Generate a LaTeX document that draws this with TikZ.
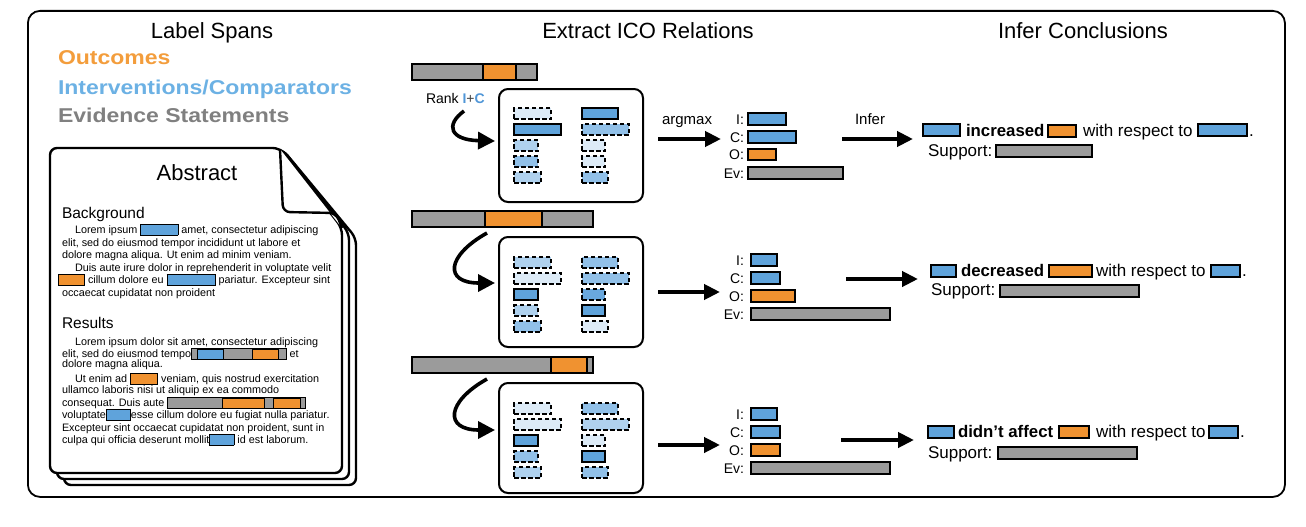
\documentclass[tikz,border=0pt]{standalone}
\usepackage{fontspec}
\setmainfont{Liberation Sans}
\newfontfamily\legendfont[FakeStretch=1.15]{Liberation Sans}
\usetikzlibrary{arrows.meta}
\definecolor{oorange}{RGB}{240,146,48}
\definecolor{iblue}{RGB}{95,163,219}
\definecolor{rankblue}{RGB}{80,150,215}
\definecolor{evgray}{RGB}{155,155,155}
\definecolor{legorange}{RGB}{243,157,60}
\definecolor{legblue}{RGB}{108,177,228}
\definecolor{leggray}{RGB}{128,128,128}
\definecolor{bLightest}{RGB}{221,235,247}
\definecolor{bLight}{RGB}{175,209,238}
\definecolor{bMed}{RGB}{145,192,232}
\definecolor{bDark}{RGB}{105,168,222}
\setlength\fboxsep{0pt}\setlength\fboxrule{0.8pt}
\newcommand\ibx[3]{\fcolorbox{black}{#1}{\rule{0pt}{#3}\hspace{#2}}}
\newcommand\ib[2]{\raisebox{-2pt}{\ibx{#1}{#2}{10.4pt}}}
\newcommand\cbA{\raisebox{-1.5pt}{\fcolorbox{black}{evgray}{\hspace{5pt}\ibx{iblue}{25.4pt}{9pt}\hspace{28pt}\ibx{oorange}{25.4pt}{9pt}\hspace{7pt}}}}
\newcommand\cbB{\raisebox{-1.5pt}{\fcolorbox{black}{evgray}{\hspace{54pt}\ibx{oorange}{41.4pt}{9pt}\hspace{8pt}\ibx{oorange}{26.4pt}{9pt}\hspace{4pt}}}}
\newcommand\spanbox[6]{\node[#2, minimum width={#5-#3}, minimum height={#6-#4}] (#1) at (#3,#4) {};}
\newcommand\rk[5]{\node[rkbase,#2,minimum width=#5] (#1) at (#3,#4) {};}
\begin{document}
\begin{tikzpicture}[x=1pt,y=-1pt,
  txt/.style={inner sep=0pt, outer sep=0pt, anchor=base west},
  body/.style={txt, font=\fontsize{10.8}{12}\selectfont},
  ttl/.style={inner sep=0pt, outer sep=0pt, anchor=base, font=\fontsize{22}{26}\selectfont},
  leg/.style={txt, font=\legendfont\bfseries\fontsize{20}{24}\selectfont},
  head/.style={txt, font=\fontsize{15.5}{18}\selectfont},
  lab/.style={inner sep=0pt, outer sep=0pt, anchor=base east, font=\fontsize{14}{16}\selectfont},
  small/.style={inner sep=0pt, outer sep=0pt, anchor=base, font=\fontsize{15}{18}\selectfont},
  sent/.style={txt, font=\fontsize{17}{20}\selectfont},
  sentb/.style={txt, font=\bfseries\fontsize{16.8}{20}\selectfont},
  spbase/.style={draw, line width=1.1pt, inner sep=0pt, outer sep=0pt, anchor=north west},
  spI/.style={spbase, fill=iblue},
  spO/.style={spbase, fill=oorange},
  spE/.style={spbase, fill=evgray},
  bar/.style={draw, line width=1.2pt, inner sep=0pt, outer sep=0pt, anchor=north west, fill=evgray},
  barO/.style={bar, fill=oorange},
  rankbox/.style={draw, line width=2pt, rounded corners=9pt, inner sep=0pt, outer sep=0pt, anchor=north west, minimum width=144},
  rkbase/.style={draw, line width=1.4pt, dash pattern=on 4.5pt off 2.5pt, inner sep=0pt, outer sep=0pt, anchor=north west, minimum height=11},
  rkS/.style={solid, line width=1.2pt, fill=iblue},
  rkA/.style={fill=bLightest},
  rkB/.style={fill=bLight},
  rkC/.style={fill=bMed},
  rkD/.style={fill=bDark},
  bigarrow/.style={line width=4pt, -{Triangle[length=16pt,width=15pt]}},
  curvearrow/.style={line width=3.6pt, -{Triangle[length=17pt,width=17pt]}},
  page/.style={draw, fill=white, line width=2.4pt, line join=round, rounded corners=7pt}
]
\useasboundingbox (0,0) rectangle (1306,527);
\node[draw, line width=1.8pt, rounded corners=12pt, inner sep=0pt, anchor=north west, minimum width=1257, minimum height=486] (frame) at (27,10) {};

% titles
\node[ttl] (t1) at (212,39) {Label Spans};
\node[ttl] (t2) at (648,39) {Extract ICO Relations};
\node[ttl] (t3) at (1083,39) {Infer Conclusions};

% legend
\node[leg, text=legorange] (lo) at (58,65) {Outcomes};
\node[leg, text=legblue] (li) at (58,94) {Interventions/Comparators};
\node[leg, text=leggray] (le) at (58,122) {Evidence Statements};

% pages
\draw[page] (64,160) -- (283,150) -- (356,238) -- (356,485) -- (64,485) -- cycle;
\draw[page] (57,154) -- (282,149) -- (349,233) -- (349,479) -- (57,479) -- cycle;
\draw[page] (50,148) -- (280,148) -- (342,228) -- (342,473) -- (50,473) -- cycle;
\draw[page] (280,149) -- (283,212) -- (336,213) -- (342,228);

\node[ttl] (abs) at (197,180) {Abstract};
\node[head] (bg) at (62,218) {Background};
\node[body] (b1) at (75,233) {Lorem ipsum \ib{iblue}{36.4pt} amet, consectetur adipiscing};
\node[body] (b2) at (62,246) {elit, sed do eiusmod tempor incididunt ut labore et};
\node[body] (b3) at (62,258) {dolore magna aliqua. Ut enim ad minim veniam.};
\node[body] (b4) at (75,271) {Duis aute irure dolor in reprehenderit in voluptate velit};
\node[body] (b5) at (58,283) {\ib{oorange}{25.4pt} cillum dolore eu \ib{iblue}{47.4pt} pariatur. Excepteur sint};
\node[body] (b6) at (62,296) {occaecat cupidatat non proident};

\node[head] (res) at (62,328) {Results};
\node[body] (r1) at (75,345) {Lorem ipsum dolor sit amet, consectetur adipiscing};
\node[body] (r2) at (62,357) {elit, sed do eiusmod tempo\cbA{} et};
\node[body] (r3) at (62,367) {dolore magna aliqua.};
\node[body] (r4) at (75,382) {Ut enim ad \ib{oorange}{26.4pt} veniam, quis nostrud exercitation};
\node[body] (r5) at (62,393) {ullamco laboris nisi ut aliquip ex ea commodo};
\node[body] (r6) at (62,406) {consequat. Duis aute \cbB};
\node[body] (r7) at (62,418) {voluptate\ib{iblue}{23.4pt}esse cillum dolore eu fugiat nulla pariatur.};
\node[body] (r8) at (62,431) {Excepteur sint occaecat cupidatat non proident, sunt in};
\node[body] (r9) at (62,443) {culpa qui officia deserunt mollit\ib{iblue}{23.4pt} id est laborum.};

% evidence bars
\node[bar, minimum width=125, minimum height=16] (ev1) at (412,64) {};
\node[barO, minimum width=33, minimum height=16] (ev1o) at (483,64) {};
\node[bar, minimum width=181, minimum height=16] (ev2) at (412,211) {};
\node[barO, minimum width=57, minimum height=16] (ev2o) at (485,211) {};
\node[bar, minimum width=181, minimum height=16] (ev3) at (412,357) {};
\node[barO, minimum width=36, minimum height=16] (ev3o) at (551,357) {};

\node[txt, font=\fontsize{14}{16}\selectfont] (rank) at (426,103) {Rank {\bfseries\color{rankblue}I}{\color{black!75}+}{\bfseries\color{rankblue}C}};

% rank boxes
\node[rankbox, minimum height=113] (rb1) at (499,89) {};
\node[rankbox, minimum height=110] (rb2) at (499,237) {};
\node[rankbox, minimum height=110] (rb3) at (499,383) {};

\rk{a1}{rkA}{514}{108}{37}
\rk{a2}{rkS}{514}{124}{47}
\rk{a3}{rkB}{514}{140}{24}
\rk{a4}{rkC}{514}{156}{24}
\rk{a5}{rkB}{514}{172}{27}
\rk{a6}{rkS}{582}{108}{36}
\rk{a7}{rkC}{582}{124}{47}
\rk{a8}{rkA}{582}{140}{23}
\rk{a9}{rkA}{582}{156}{23}
\rk{a10}{rkC}{582}{172}{26}

\rk{b1r}{rkB}{514}{257}{37}
\rk{b2r}{rkA}{514}{273}{47}
\rk{b3r}{rkS}{514}{289}{24}
\rk{b4r}{rkB}{514}{305}{24}
\rk{b5r}{rkC}{514}{321}{27}
\rk{b6r}{rkC}{582}{257}{36}
\rk{b7r}{rkC}{582}{273}{47}
\rk{b8r}{rkD}{582}{289}{23}
\rk{b9r}{rkS}{582}{305}{23}
\rk{b10r}{rkA}{582}{321}{26}

\rk{c1r}{rkA}{514}{403}{37}
\rk{c2r}{rkA}{514}{419}{47}
\rk{c3r}{rkS}{514}{435}{24}
\rk{c4r}{rkC}{514}{451}{24}
\rk{c5r}{rkB}{514}{467}{27}
\rk{c6r}{rkC}{582}{403}{36}
\rk{c7r}{rkB}{582}{419}{47}
\rk{c8r}{rkA}{582}{435}{23}
\rk{c9r}{rkS}{582}{451}{23}
\rk{c10r}{rkC}{582}{467}{26}

% curved arrows
\coordinate (k1s) at (464,111); \coordinate (k1e) at (495,141);
\coordinate (k2s) at (487,233); \coordinate (k2e) at (495,283);
\coordinate (k3s) at (487,379); \coordinate (k3e) at (495,430);
\draw[curvearrow] (k1s) .. controls (445,125) and (450,140) .. (k1e);
\draw[curvearrow] (k2s) .. controls (446,256) and (444,283) .. (k2e);
\draw[curvearrow] (k3s) .. controls (446,402) and (444,430) .. (k3e);

% argmax arrows
\coordinate (m1s) at (658,139); \coordinate (m1e) at (721,139);
\coordinate (m2s) at (658,292); \coordinate (m2e) at (720,292);
\coordinate (m3s) at (658,445); \coordinate (m3e) at (720,445);
\draw[bigarrow] (m1s) -- (m1e);
\draw[bigarrow] (m2s) -- (m2e);
\draw[bigarrow] (m3s) -- (m3e);
\node[small] (argmax) at (687,124) {argmax};

% ICO lists
\node[lab] (li1) at (744,124) {I:};
\node[lab] (lc1) at (744,142) {C:};
\node[lab] (lo1) at (744,159.5) {O:};
\node[lab] (le1) at (744,178) {Ev:};
\spanbox{i1}{spI}{748}{113}{786}{125}
\spanbox{c1}{spI}{748}{131}{796}{143}
\spanbox{o1}{spO}{748}{149}{776}{160}
\spanbox{e1}{spE}{748}{167}{843}{179}

\node[lab] (li2) at (744,265) {I:};
\node[lab] (lc2) at (744,283) {C:};
\node[lab] (lo2) at (744,301) {O:};
\node[lab] (le2) at (744,319) {Ev:};
\spanbox{i2}{spI}{751}{254}{777}{266}
\spanbox{c2}{spI}{751}{272}{780}{284}
\spanbox{o2}{spO}{751}{290}{795}{302}
\spanbox{e2}{spE}{751}{308}{890}{320}

\node[lab] (li3) at (744,419) {I:};
\node[lab] (lc3) at (744,437) {C:};
\node[lab] (lo3) at (744,455) {O:};
\node[lab] (le3) at (744,473) {Ev:};
\spanbox{i3}{spI}{751}{408}{777}{420}
\spanbox{c3}{spI}{751}{426}{780}{438}
\spanbox{o3}{spO}{751}{444}{780}{456}
\spanbox{e3}{spE}{751}{462}{890}{474}

% infer arrows
\coordinate (n1s) at (842,139); \coordinate (n1e) at (913,139);
\coordinate (n2s) at (846,279); \coordinate (n2e) at (918,279);
\coordinate (n3s) at (841,440); \coordinate (n3e) at (914,440);
\draw[bigarrow] (n1s) -- (n1e);
\draw[bigarrow] (n2s) -- (n2e);
\draw[bigarrow] (n3s) -- (n3e);
\node[small] (infer) at (870,124) {Infer};

% conclusions
\spanbox{s1a}{spI}{923}{124}{960}{136}
\node[sentb] (s1v) at (966,136) {increased};
\spanbox{s1o}{spO}{1048}{125}{1076}{137}
\node[sent] (s1w) at (1083,136) {with respect to};
\spanbox{s1b}{spI}{1198}{124}{1247}{136}
\node[sent] (s1d) at (1249,136) {.};
\node[sent] (s1s) at (928,156) {Support:};
\spanbox{s1e}{spE}{996}{145}{1092}{157}

\spanbox{s2a}{spI}{931}{265}{956}{277}
\node[sentb] (s2v) at (961,276) {decreased};
\spanbox{s2o}{spO}{1049}{265}{1092}{277}
\node[sent] (s2w) at (1096,276) {with respect to};
\spanbox{s2b}{spI}{1211}{265}{1240}{277}
\node[sent] (s2d) at (1242,276) {.};
\node[sent] (s2s) at (931,295) {Support:};
\spanbox{s2e}{spE}{1000}{285}{1139}{297}

\spanbox{s3a}{spI}{928}{426}{954}{438}
\node[sentb] (s3v) at (958,437) {didn’t affect};
\spanbox{s3o}{spO}{1059}{426}{1089}{438}
\node[sent] (s3w) at (1096,437) {with respect to};
\spanbox{s3b}{spI}{1209}{426}{1238}{438}
\node[sent] (s3d) at (1240,437) {.};
\node[sent] (s3s) at (928,458) {Support:};
\spanbox{s3e}{spE}{998}{447}{1137}{459}
\end{tikzpicture}
\end{document}
